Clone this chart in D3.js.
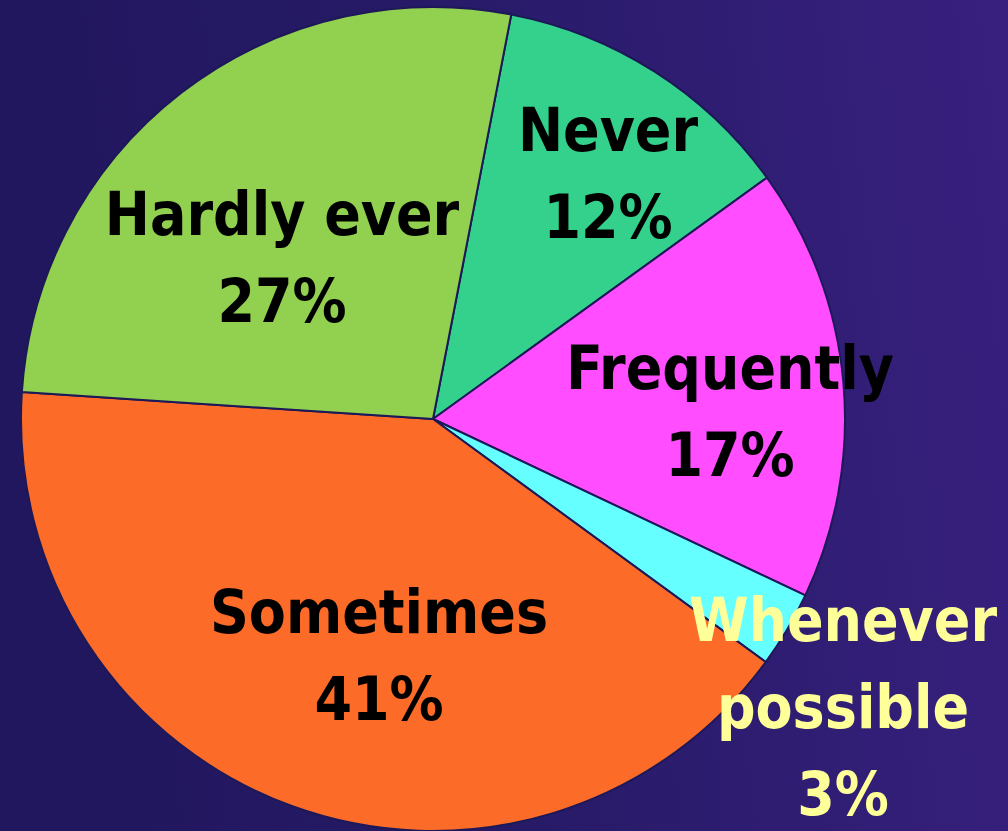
<!DOCTYPE html>
<html>
<head>
<meta charset="utf-8">
<script src="https://cdn.jsdelivr.net/npm/d3@7"></script>
<style>
  html, body { margin: 0; padding: 0; background: #221860; }
  svg { display: block; }
  .lbl { font-family: "Comic Sans MS", "DejaVu Sans Condensed", "DejaVu Sans", sans-serif; font-weight: bold; font-stretch: condensed; }
</style>
</head>
<body>
<div id="chart"></div>
<script>
// data
const categories = ['Never', 'Frequently', 'Whenever possible', 'Sometimes', 'Hardly ever'];
const values = [12, 17, 3, 41, 27];
const labelLines = [['Never', '12%'], ['Frequently', '17%'], ['Whenever', 'possible', '3%'], ['Sometimes', '41%'], ['Hardly ever', '27%']];

// styling
const colors = ['#33d18c', '#ff4dff', '#66ffff', '#fc6b28', '#92d050'];
const textColors = ['#000', '#000', '#ffff99', '#000', '#000'];
// label offsets from the pie centre (first line baseline)
const labelPos = [[175, -268], [297, -30], [410, 222], [-54, 214], [-151, -184]];

const width = 1008, height = 831;
const cx = 433, cy = 419, radius = 412;
const lineGap = 87;

const svg = d3.select('#chart').append('svg')
    .attr('width', width)
    .attr('height', height);

const defs = svg.append('defs');
const grad = defs.append('linearGradient')
    .attr('id', 'bg')
    .attr('x1', '0%').attr('y1', '10%')
    .attr('x2', '100%').attr('y2', '0%');
grad.append('stop').attr('offset', '0%').attr('stop-color', '#21175e');
grad.append('stop').attr('offset', '40%').attr('stop-color', '#261a66');
grad.append('stop').attr('offset', '100%').attr('stop-color', '#38207f');

svg.append('rect')
    .attr('width', width).attr('height', height)
    .attr('fill', 'url(#bg)');

const g = svg.append('g').attr('transform', 'translate(' + cx + ',' + cy + ')');

const start = 10.95 * Math.PI / 180;
const pie = d3.pie().sort(null).value(d => d)
    .startAngle(start).endAngle(start + 2 * Math.PI);
const arc = d3.arc().innerRadius(0).outerRadius(radius);

g.selectAll('path')
    .data(pie(values))
    .enter()
    .append('path')
    .attr('d', arc)
    .attr('fill', (d, i) => colors[i])
    .attr('stroke', '#1d1858')
    .attr('stroke-width', 2)
    .attr('stroke-linejoin', 'round');

const labels = g.selectAll('text.lbl')
    .data(labelLines)
    .enter()
    .append('text')
    .attr('class', 'lbl')
    .attr('text-anchor', 'middle')
    .attr('font-size', 60)
    .attr('fill', (d, i) => textColors[i])
    .attr('x', (d, i) => labelPos[i][0])
    .attr('y', (d, i) => labelPos[i][1]);

labels.selectAll('tspan')
    .data((d, i) => d.map(t => ({ t: t, i: i })))
    .enter()
    .append('tspan')
    .attr('x', d => labelPos[d.i][0])
    .attr('dy', (d, j) => j === 0 ? 0 : lineGap)
    .text(d => d.t);
</script>
</body>
</html>
